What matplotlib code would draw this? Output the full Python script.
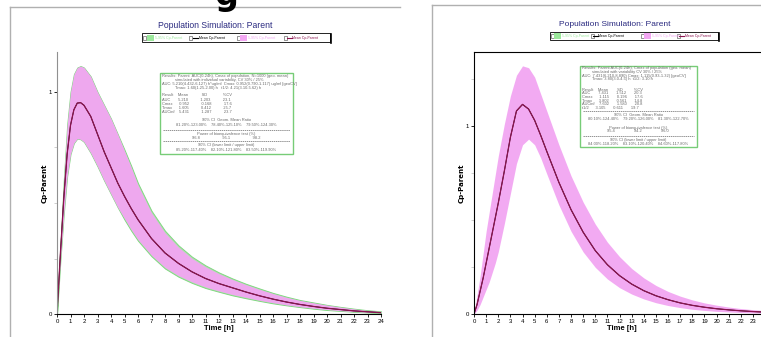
import numpy as np
import matplotlib.pyplot as plt
from matplotlib.patches import Rectangle
from matplotlib.lines import Line2D
from matplotlib.ticker import MultipleLocator

W, H = 761, 337

# time grid (h)
time_h = [0, 0.25, 0.5, 0.75, 1, 1.25, 1.5, 1.75, 2, 2.5, 3, 3.5, 4, 4.5, 5, 5.5, 6,
          7, 8, 9, 10, 11, 12, 13, 14, 15, 16, 17, 18, 19, 20, 21, 22, 23, 24]

# left panel: Cp-Parent
left_mean = [0, .27, .52, .72, .85, .92, .95, .952, .94, .89, .81, .73, .66, .59, .53, .475, .425,
             .34, .275, .228, .19, .16, .137, .118, .099, .082, .067, .054, .043, .034, .026,
             .02, .014, .01, .006]
left_hi = [0, .30, .60, .85, 1.0, 1.08, 1.11, 1.117, 1.11, 1.07, 1.0, .94, .88, .81, .735, .66, .58,
           .455, .365, .30, .25, .212, .181, .155, .132, .111, .092, .075, .061, .05, .04,
           .031, .023, .016, .011]
left_lo = [0, .24, .45, .62, .72, .77, .79, .787, .775, .725, .665, .60, .54, .48, .43, .38, .335,
           .265, .21, .173, .145, .122, .104, .088, .075, .062, .051, .041, .033, .026, .02,
           .015, .011, .008, .005]
left_ref_hi = [0, .30, .60, .85, 1.0, 1.08, 1.11, 1.117, 1.11, 1.07, 1.0, .94, .88, .81, .74, .667, .589,
               .465, .375, .309, .258, .219, .187, .16, .136, .115, .095, .078, .063, .052, .041,
               .032, .024, .017, .012]
left_ref_lo = [0, .24, .45, .62, .72, .77, .79, .787, .775, .725, .665, .60, .54, .48, .425, .375, .33,
               .26, .205, .168, .14, .117, .1, .084, .071, .059, .048, .039, .031, .024, .018,
               .014, .01, .007, .004]

# right panel: Cp-Parent
right_mean = [0, .05, .12, .19, .27, .35, .43, .51, .59, .76, .94, 1.08, 1.115, 1.09, 1.03, .95, .865,
              .70, .555, .435, .337, .262, .204, .159, .124, .097, .076, .059, .046, .036, .028,
              .022, .017, .013, .01]
right_hi = [0, .10, .20, .32, .44, .54, .64, .74, .84, 1.01, 1.16, 1.27, 1.32, 1.31, 1.26, 1.17, 1.08,
            .90, .735, .595, .478, .382, .305, .242, .192, .152, .12, .095, .075, .059, .047,
            .037, .029, .023, .018]
right_lo = [0, .02, .05, .09, .13, .17, .22, .27, .33, .48, .64, .80, .90, .93, .90, .83, .745,
            .58, .44, .33, .248, .186, .14, .106, .08, .06, .045, .034, .025, .019, .014,
            .011, .008, .006, .004]

x_ticks = list(range(25))
title = "Population Simulation: Parent"
legend_labels = ["5-95% Cp-Parent", "Mean Cp-Parent", "5-95% Cp-Parent", "Mean Cp-Parent"]

PINK = '#f2a6f2'
GREEN = '#9be89b'
MEAN_C = '#8c1450'
NAVY = '#2a2a80'

plt.rcParams['font.family'] = ['Liberation Sans Narrow', 'Liberation Sans', 'DejaVu Sans']

fig = plt.figure(figsize=(W / 100, H / 100), dpi=100)


def fx(x):
    return x / W


def fy(y):
    return 1 - y / H


def hline(x0, x1, y, color, lw=1.0):
    fig.add_artist(Line2D([fx(x0), fx(x1)], [fy(y), fy(y)], color=color, lw=lw))


def vline(x, y0, y1, color, lw=1.0):
    fig.add_artist(Line2D([fx(x), fx(x)], [fy(y0), fy(y1)], color=color, lw=lw))


# panel frames
vline(10, 7, 337, '#b0b0b0')
hline(10, 400, 7, '#b0b0b0')
vline(432, 5, 337, '#b0b0b0')
hline(432, 761, 5, '#b0b0b0')
fig.text(fx(226), fy(5), 'g', fontsize=24, fontweight='bold', ha='center', va='baseline',
         family='DejaVu Sans')


def draw_legend(x0, x1, y0, y1, slots):
    fig.add_artist(Rectangle((fx(x0), fy(y1)), fx(x1 - x0), (y1 - y0) / H, facecolor='white',
                             edgecolor='black', lw=0.6))
    vline(x1 + 0.8, y0 + 1, y1 + 0.8, 'black', lw=1.2)
    yc = (y0 + y1) / 2
    for (xc, xs, xt), lab, kind, col in zip(slots, legend_labels,
                                            ['box', 'line', 'box', 'line'],
                                            [GREEN, 'black', PINK, MEAN_C]):
        fig.add_artist(Rectangle((fx(xc), fy(yc + 2)), fx(3), 4 / H, facecolor='white',
                                 edgecolor='#444444', lw=0.4))
        if kind == 'box':
            fig.add_artist(Rectangle((fx(xs), fy(yc + 3)), fx(7), 6 / H, facecolor=col,
                                     edgecolor='none'))
        else:
            hline(xs, xs + 5, yc, col, lw=0.8)
        fig.text(fx(xt), fy(yc), lab, fontsize=2.5, color=col, va='center', ha='left')


def draw_stats(x0, x1, y0, y1, lines):
    fig.add_artist(Rectangle((fx(x0), fy(y1)), fx(x1 - x0), (y1 - y0) / H, facecolor='white',
                             edgecolor='#77cc77', lw=1.0, zorder=5))
    for y, xs, txt, ha in lines:
        if txt == '---':
            fig.add_artist(Line2D([fx(x0 + 3), fx(x1 - 3)], [fy(y), fy(y)], color='#666666',
                                  lw=0.5, ls=(0, (2, 1)), zorder=6))
        else:
            fig.text(fx(xs), fy(y), txt, fontsize=2.9, color='#6a6a6a', va='center', ha=ha,
                     zorder=6)


def draw_panel(x_left, px_per_h, y_top, y_zero, px_per_unit, xmax, mean, hi, lo,
               ref_hi=None, ref_lo=None, boxed=False):
    width = xmax * px_per_h
    ax = fig.add_axes([fx(x_left), fy(y_zero), fx(width), (y_zero - y_top) / H])
    ax.set_xlim(0, xmax)
    ax.set_ylim(0, (y_zero - y_top) / px_per_unit)
    if ref_hi is not None:
        ax.fill_between(time_h, ref_lo, ref_hi, color='#b8d8b8', lw=0.7, edgecolor='#80d880')
    ax.fill_between(time_h, lo, hi, color=PINK, lw=0, alpha=0.95)
    ax.plot(time_h, mean, color='black', lw=0.6)
    ax.plot(time_h, mean, color=MEAN_C, lw=0.9)
    ax.set_xticks(x_ticks)
    ax.set_xticklabels([str(v) for v in x_ticks])
    ax.set_yticks([0, 1])
    ax.yaxis.set_minor_locator(MultipleLocator(0.25))
    ax.tick_params(axis='both', which='major', labelsize=4.3, length=2, width=0.6, pad=1.5)
    ax.tick_params(axis='y', which='minor', length=2, width=0.5, color='#bbbbbb')
    ax.set_xlabel('Time [h]', fontsize=5.5, fontweight='bold', labelpad=1)
    ax.set_ylabel('Cp-Parent', fontsize=5.0, fontweight='bold', labelpad=1,
                  family='DejaVu Sans')
    for s in ['top', 'right']:
        ax.spines[s].set_visible(boxed)
    ax.spines['left'].set_color('black' if boxed else '#909090')
    for s in ax.spines.values():
        s.set_linewidth(0.8)
    ax.set_facecolor('none')
    return ax


draw_panel(57, 13.5, 52, 314, 222, 24.0, left_mean, left_hi, left_lo,
           left_ref_hi, left_ref_lo, boxed=False)
draw_panel(474, 12.13, 52, 314, 188, 24.3, right_mean, right_hi, right_lo, boxed=True)

fig.text(fx(215), fy(25), title, fontsize=6.2, color=NAVY, ha='center', va='center')
fig.text(fx(615), fy(24), title, fontsize=6.0, color=NAVY, ha='center', va='center')

draw_legend(142, 330, 33, 42, [(143, 147, 155), (189, 193, 199), (237, 240, 248), (284, 287, 292)])
draw_legend(550, 718, 32, 40, [(551, 554, 562), (591, 593, 598), (641, 644, 652), (677, 679, 685)])

stats_left = [
    (75.5, 162, 'Results: Parent  AUC(0-24h), Cmax of population, N=1000 (geo. mean)', 'left'),
    (79.5, 175, 'simulated with individual variability, CV 30% / 25%', 'left'),
    (83.5, 162, 'AUC: 5.210(4.432-6.127) h*ug/ml  Cmax: 0.952(0.790-1.117) ug/ml [geoCV]', 'left'),
    (87.5, 175, 'Tmax: 1.60(1.25-2.00) h   t1/2: 4.21(3.10-5.62) h', 'left'),
    (95.5, 162, 'Result    Mean            SD              %CV', 'left'),
    (100, 162, 'AUC       5.210           1.203           23.1', 'left'),
    (104, 162, 'Cmax      0.952           0.168           17.6', 'left'),
    (108, 162, 'Tmax      1.605           0.412           25.7', 'left'),
    (112, 162, 'AUCinf    5.431           1.287           23.7', 'left'),
    (120, 226, '90% CI  Geom. Mean Ratio', 'center'),
    (125, 226, '81.20%-123.00%    78.40%-125.10%    79.50%-124.30%', 'center'),
    (130, 0, '---', 'left'),
    (134, 226, 'Power of bioequivalence test (%)', 'center'),
    (137.5, 226, '96.8                    95.1                    98.2', 'center'),
    (141, 0, '---', 'left'),
    (145, 226, '90% CI (lower limit / upper limit)', 'center'),
    (150, 226, '85.20%-117.40%    82.10%-121.80%    83.50%-119.90%', 'center'),
]
draw_stats(160, 293, 73, 154, stats_left)

stats_right = [
    (68.5, 582, 'Results: Parent AUC(0-24h), Cmax of population (geo. mean)', 'left'),
    (72, 592, 'simulated with variability CV 30% / 25%', 'left'),
    (75.5, 582, 'AUC: 7.431(6.210-8.890) Cmax: 1.115(0.93-1.32) [geoCV]', 'left'),
    (79, 592, 'Tmax: 3.80(3.0-4.5) h  t1/2: 3.10 h', 'left'),
    (90, 582, 'Result    Mean        SD          %CV', 'left'),
    (93.5, 582, 'AUC       7.431       1.512       20.3', 'left'),
    (97, 582, 'Cmax      1.115       0.196       17.6', 'left'),
    (100.5, 582, 'Tmax      3.802       0.561       14.8', 'left'),
    (104, 582, 'AUCinf    7.602       1.580       20.8', 'left'),
    (107.5, 582, 't1/2      3.105       0.611       19.7', 'left'),
    (111, 0, '---', 'left'),
    (115, 638, '90% CI  Geom. Mean Ratio', 'center'),
    (119, 638, '80.10%-124.40%    79.20%-126.00%    81.30%-122.70%', 'center'),
    (127.5, 638, 'Power of bioequivalence test (%)', 'center'),
    (131.5, 638, '95.4                 94.2                 96.0', 'center'),
    (136, 0, '---', 'left'),
    (140, 638, '90% CI (lower limit / upper limit)', 'center'),
    (144, 638, '84.00%-118.20%    83.10%-120.40%    84.60%-117.80%', 'center'),
]
draw_stats(580, 697, 66, 147, stats_right)

fig.savefig('out.png', dpi=100, facecolor='white')
